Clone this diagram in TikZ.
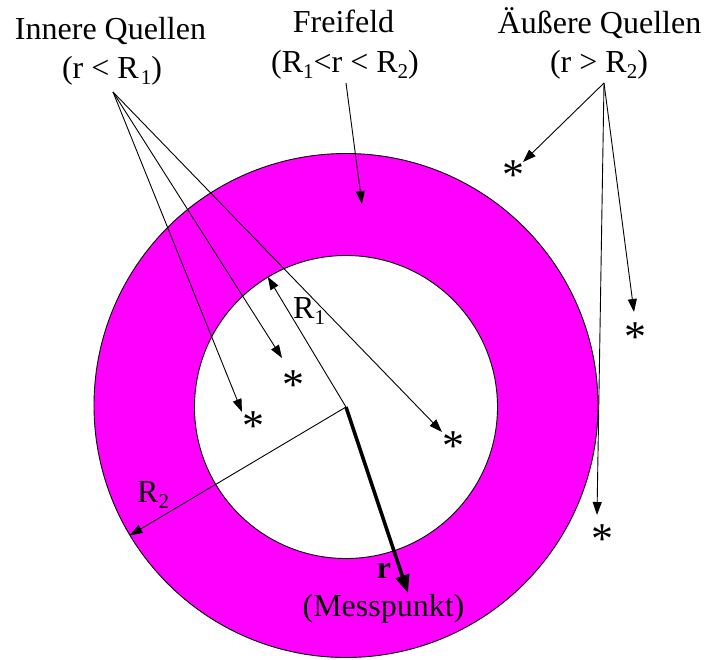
\documentclass[tikz,border=0pt]{standalone}
\usepackage{fontspec}
\setmainfont{Liberation Serif}
\usetikzlibrary{arrows.meta}
\definecolor{ringmag}{RGB}{255,0,255}
\newcommand\lblfont{\fontsize{32}{38}\selectfont}
\newcommand\subs[1]{\raisebox{-6pt}{\fontsize{21}{21}\selectfont #1}}
\begin{document}
\begin{tikzpicture}[x=1pt,y=-1pt,
  txt/.style={inner sep=0pt, anchor=base, font=\lblfont},
  star/.style={inner sep=0pt, font=\fontsize{44}{44}\selectfont},
  arr/.style={line width=0.9pt, -{Triangle[length=13pt,width=9pt]}},
  thickarr/.style={line width=3.5pt, -{Triangle[length=18pt,width=14pt]}},
  ring/.style={circle, draw, line width=0.9pt, inner sep=0pt}]
\useasboundingbox (0,0) rectangle (707,659);
\coordinate (c) at (346,407);
\node[ring, fill=ringmag, minimum size=504pt] (outer) at (346,405.5) {};
\node[ring, fill=white, minimum size=303pt] (inner) at (c) {};
% labels
\node[txt] (inn1) at (110.5,39) {Innere Quellen};
\node[txt] (inn2) at (112,78) {(r < R\hspace{2pt}\subs{1})};
\node[txt] (frei1) at (343.5,32) {Freifeld};
\node[txt] (frei2) at (345,72) {(R\subs{1}<r < R\subs{2})};
\node[txt] (aus1) at (599.5,33) {Äußere Quellen};
\node[txt] (aus2) at (599,72) {(r > R\subs{2})};
% sources
\coordinate (innsrc) at (113,92);
\coordinate (freisrc) at (346,83);
\coordinate (aussrc) at (604,83);
% asterisks
\node[star] (s1) at (253,426.5) {*};
\node[star] (s2) at (293,385.5) {*};
\node[star] (s3) at (453,446.5) {*};
\node[star] (s4) at (513,175.5) {*};
\node[star] (s5) at (635,337.5) {*};
\node[star] (s6) at (602,539.5) {*};
% arrow tips
\coordinate (t1) at (242,412);
\coordinate (t2) at (282,358);
\coordinate (t3) at (442,432);
\coordinate (t4) at (523,162);
\coordinate (t5) at (634,312);
\coordinate (t6) at (597,515);
\coordinate (tf) at (362,204);
\draw[arr] (innsrc) -- (t1);
\draw[arr] (innsrc) -- (t2);
\draw[arr] (innsrc) -- (t3);
\draw[arr] (aussrc) -- (t4);
\draw[arr] (aussrc) -- (t5);
\draw[arr] (aussrc) -- (t6);
\draw[arr] (freisrc) -- (tf);
% radii
\draw[arr] (c) -- (inner.121.4);
\draw[arr] (c) -- (outer.211.3);
\node[txt, anchor=base west] (r1) at (293,318) {R\subs{1}};
\node[txt, anchor=base west] (r2) at (137,502) {R\subs{2}};
% measuring point
\coordinate (mp) at (408,593);
\draw[thickarr] (c) -- (mp);
\node[txt] (rlbl) at (384,578) {\textbf{r}};
\node[txt] (mess) at (383.5,616) {(Messpunkt)};
\end{tikzpicture}
\end{document}
